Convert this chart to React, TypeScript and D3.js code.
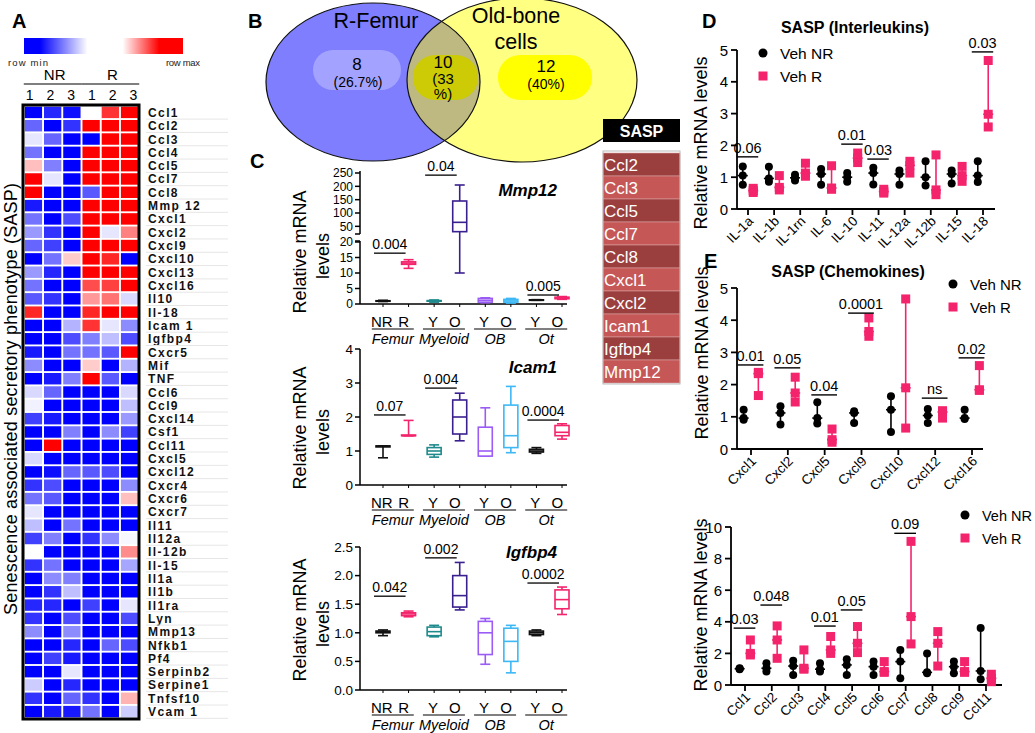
import React from 'react';
import * as d3 from 'd3';

const FONT = 'Arial, "Liberation Sans", Helvetica, sans-serif';
const PINK = '#f3246c';

// ---------- A: heatmap data ----------
const heatGenes = ['Ccl1', 'Ccl2', 'Ccl3', 'Ccl4', 'Ccl5', 'Ccl7', 'Ccl8', 'Mmp 12', 'Cxcl1', 'Cxcl2', 'Cxcl9', 'Cxcl10', 'Cxcl13', 'Cxcl16', 'Il10', 'Il-18', 'Icam 1', 'Igfbp4', 'Cxcr5', 'Mif', 'TNF', 'Ccl6', 'Ccl9', 'Cxcl14', 'Csf1', 'Ccl11', 'Cxcl5', 'Cxcl12', 'Cxcr4', 'Cxcr6', 'Cxcr7', 'Il11', 'Il12a', 'Il-12b', 'Il-15', 'Il1a', 'Il1b', 'Il1ra', 'Lyn', 'Mmp13', 'Nfkb1', 'Pf4', 'Serpinb2', 'Serpine1', 'Tnfsf10', 'Vcam 1'];
const heatGroups = ['NR', 'R'];
const heatCols = ['1', '2', '3', '1', '2', '3'];
// -1 = row min (blue), 0 = white, 1 = row max (red)
const heatValues = [
  [-1, -0.85, -0.95, 0, 0.8, 1],
  [-0.6, -1, -0.8, 1, 1, 1],
  [-0.1, -0.6, -1, -1, 1, 1],
  [-0.55, -1, -1, 1, 1, 1],
  [0.25, -0.5, -1, 1, 1, 1],
  [1, -0.1, -1, 1, 1, 1],
  [1, -1, -1, -0.65, 1, 1],
  [-0.9, -1, -1, 1, 1, 1],
  [-0.55, -1, -0.7, 1, 1, 1],
  [-0.4, -0.8, -1, 1, -0.1, 0.5],
  [-0.6, -0.75, -1, 1, 1, 1],
  [-1, -0.55, 0.2, 1, 0.85, -1],
  [-0.4, -0.85, -1, 1, 1, 1],
  [-0.55, -1, -1, 0.7, 0.75, 1],
  [-0.65, -0.8, -1, 0.4, 0.55, -0.15],
  [0.85, -1, -1, 0.85, 1, 1],
  [-1, -1, -0.3, 0.8, -0.1, -0.45],
  [-1, -1, -0.7, -0.5, -0.25, -0.7],
  [-0.9, -1, -0.55, -0.55, -0.65, 1],
  [-0.45, -1, -1, 0.2, -1, -0.3],
  [-1, -0.9, -0.5, 1, -0.65, -1],
  [-0.15, -0.6, -1, -1, -1, -0.15],
  [-0.05, -1, -1, -1, -1, -0.25],
  [-0.75, -0.9, -1, -1, -1, -0.4],
  [-1, -1, -0.5, -1, -0.45, -0.75],
  [-1, 1, -1, -1, -1, -1],
  [-0.15, -1, -1, -1, -1, -1],
  [-1, -0.95, -0.6, -0.65, -0.7, -1],
  [-0.8, -0.7, -1, -1, -1, -0.45],
  [-0.55, -0.65, -1, -1, -1, 0.25],
  [-0.1, -1, -1, -1, -1, -1],
  [-0.25, -1, -0.55, -1, -1, -1],
  [-0.75, -0.5, -1, -0.8, -0.45, -0.03],
  [0, -1, -1, -1, -1, 0.45],
  [-0.8, -0.55, -1, -1, -1, -0.35],
  [-1, -0.45, -0.5, -1, -1, -1],
  [-1, -0.8, -0.25, -1, -1, -1],
  [-0.85, -0.85, -1, -0.75, -1, -0.1],
  [-0.8, -1, -0.7, -1, -1, -0.7],
  [-0.45, -1, -0.45, -1, -1, -1],
  [-1, -1, -0.85, -1, -0.6, -0.7],
  [-1, -0.75, -0.9, -1, -1, -1],
  [-1, -1, -0.1, -1, -1, -1],
  [-0.2, -1, -0.85, -1, -1, -1],
  [-0.8, -1, -0.6, -0.8, -1, 0.3],
  [-1, -0.9, -0.9, -0.55, -1, -0.2],
];

// ---------- B: venn ----------
const vennSets = ['R-Femur', 'Old-bone cells'];
const vennCounts = [8, 10, 12];
const vennPct = ['26.7%', '33%', '40%'];

// ---------- C: box plots ----------
const boxGroups = ['Femur', 'Myeloid', 'OB', 'Ot'];
const boxCats = ['NR', 'R', 'Y', 'O', 'Y', 'O', 'Y', 'O'];
const boxColors = ['#111', PINK, '#1f8a8c', '#3a1f8f', '#9a5cf5', '#3db8f5', '#111', PINK];
// [min, q1, median, q3, max]
const mmp12Stats = [
  [0.8, 0.95, 1, 1.05, 1.2], [11.5, 12.8, 13.2, 13.6, 14.3], [0.6, 0.9, 1, 1.1, 1.3], [10, 30, 65, 145, 205],
  [0.4, 0.6, 1.2, 1.8, 2.0], [0.3, 0.6, 1.0, 1.5, 1.8], [1.2, 1.25, 1.3, 1.35, 1.4], [1.5, 1.7, 2, 2.2, 2.4],
];
const icam1Stats = [
  [0.8, 1.12, 1.14, 1.15, 1.15], [1.45, 1.45, 1.45, 1.47, 1.9], [0.82, 0.9, 1.0, 1.1, 1.18], [1.3, 1.5, 2.0, 2.5, 2.7],
  [0.85, 0.85, 1.0, 1.7, 2.27], [0.95, 1.1, 1.45, 2.35, 2.9], [0.93, 0.97, 1.0, 1.05, 1.1], [1.35, 1.45, 1.55, 1.75, 1.8],
];
const igfbp4Stats = [
  [0.95, 1.0, 1.02, 1.03, 1.05], [1.28, 1.3, 1.33, 1.35, 1.38], [0.93, 0.95, 1.02, 1.1, 1.13], [1.4, 1.45, 1.65, 2.0, 2.23],
  [0.45, 0.62, 1.0, 1.2, 1.25], [0.3, 0.5, 0.85, 1.08, 1.13], [0.95, 0.97, 1.0, 1.03, 1.05], [1.32, 1.42, 1.58, 1.75, 1.8],
];
const mmp12Sig: [number, number, number, string][] = [[0, 1, 16.4, '0.004'], [2, 3, 242, '0.04'], [6, 7, 2.9, '0.005']];
const icam1Sig: [number, number, number, string][] = [[0, 1, 2.06, '0.07'], [2, 3, 2.85, '0.004'], [6, 7, 1.91, '0.0004']];
const igfbp4Sig: [number, number, number, string][] = [[0, 1, 1.64, '0.042'], [2, 3, 2.31, '0.002'], [6, 7, 1.87, '0.0002']];

// ---------- SASP table ----------
const saspGenes = ['Ccl2', 'Ccl3', 'Ccl5', 'Ccl7', 'Ccl8', 'Cxcl1', 'Cxcl2', 'Icam1', 'Igfbp4', 'Mmp12'];

// ---------- D / E: dot plots ----------
const ilCats = ['IL-1a', 'IL-1b', 'IL-1rn', 'IL-6', 'IL-10', 'IL-11', 'IL-12a', 'IL-12b', 'IL-15', 'IL-18'];
const ilNR = [[1.34, 1.05, 0.76], [1.33, 0.96, 0.86], [1.08, 0.98, 0.9], [1.26, 1.1, 0.76], [1.13, 1.0, 0.86], [1.3, 1.13, 0.77], [1.21, 1.1, 0.76], [1.5, 1.0, 0.74], [1.21, 1.1, 0.8], [1.5, 1.05, 0.85]];
const ilR = [[0.65, 0.58, 0.52], [1.05, 0.68, 0.6], [1.44, 1.13, 1.03], [1.36, 0.66, 0.62], [1.76, 1.6, 1.46], [0.62, 0.55, 0.5], [1.5, 1.37, 1.13], [1.7, 0.6, 0.45], [1.34, 1.05, 0.87], [4.67, 2.98, 2.58]];
const ilSig: [string, number, string][] = [['IL-1a', 1.64, '0.06'], ['IL-10', 2.04, '0.01'], ['IL-11', 1.57, '0.03'], ['IL-18', 4.94, '0.03']];

const cxCats = ['Cxcl1', 'Cxcl2', 'Cxcl5', 'Cxcl9', 'Cxcl10', 'Cxcl12', 'Cxcl16'];
const cxNR = [[1.22, 0.96, 0.91], [1.33, 1.12, 0.76], [1.45, 0.96, 0.79], [1.17, 1.12, 0.81], [1.64, 1.22, 0.53], [1.24, 1.04, 0.81], [1.22, 0.96, 0.93]];
const cxR = [[2.38, 2.34, 1.66], [2.23, 1.74, 1.46], [0.62, 0.29, 0.21], [4.07, 3.65, 3.5], [4.66, 1.9, 0.65], [1.19, 1.15, 0.96], [2.59, 1.84, 1.82]];
const cxSig: [string, number, string][] = [['Cxcl1', 2.61, '0.01'], ['Cxcl2', 2.52, '0.05'], ['Cxcl5', 1.68, '0.04'], ['Cxcl9', 4.22, '0.0001'], ['Cxcl12', 1.58, 'ns'], ['Cxcl16', 2.83, '0.02']];

const cclCats = ['Ccl1', 'Ccl2', 'Ccl3', 'Ccl4', 'Ccl5', 'Ccl6', 'Ccl7', 'Ccl8', 'Ccl9', 'Ccl11'];
const cclNR = [[1.06, 1.03, 1.0], [1.37, 1.06, 0.85], [1.54, 1.2, 0.63], [1.37, 1.0, 0.85], [1.63, 1.27, 0.63], [1.48, 1.16, 0.63], [2.22, 1.48, 0.42], [2.0, 0.8, 0.74], [1.48, 1.16, 0.74], [3.6, 0.89, 0.36]];
const cclR = [[2.85, 2.0, 1.9], [3.74, 2.85, 1.69], [2.22, 1.06, 1.0], [3.07, 2.22, 2.0], [3.7, 2.64, 2.05], [1.48, 0.85, 0.8], [9.09, 4.33, 2.6], [3.38, 2.64, 1.2], [1.48, 0.85, 0.8], [0.68, 0.42, 0.21]];
const cclSig: [string, number, string][] = [['Ccl1', 3.6, '0.03'], ['Ccl2', 5.06, '0.048'], ['Ccl4', 3.73, '0.01'], ['Ccl5', 4.75, '0.05'], ['Ccl7', 9.6, '0.09']];

const legendLabels = ['Veh NR', 'Veh R'];

function VLabel({ x, y, size, children, weight }: any) {
  return (
    <text transform={`translate(${x},${y}) rotate(-90)`} textAnchor="middle" fontSize={size} fontWeight={weight}>
      {children}
    </text>
  );
}

function Heatmap() {
  const x = d3.scaleBand<number>().domain(d3.range(heatCols.length)).range([24, 139]).paddingInner(0.1).paddingOuter(0.04);
  const y = d3.scaleBand<string>().domain(heatGenes).range([106, 718]).paddingInner(0.14).paddingOuter(0.05);
  const color = d3.scaleLinear<string>().domain([-1, 0, 1]).range(['#0000ff', '#ffffff', '#ff0000']);
  const bw = x.bandwidth();
  return (
    <g>
      <text x={12} y={28} fontSize={20} fontWeight="bold">A</text>
      <defs>
        <linearGradient id="hmGrad" x1="0" x2="1" y1="0" y2="0">
          <stop offset="0" stopColor="#0000ff" />
          <stop offset="0.1" stopColor="#0000ff" />
          <stop offset="0.4" stopColor="#ffffff" />
          <stop offset="0.62" stopColor="#ffffff" />
          <stop offset="0.85" stopColor="#ff0000" />
          <stop offset="1" stopColor="#ff0000" />
        </linearGradient>
      </defs>
      <rect x={24} y={38} width={159} height={16} fill="url(#hmGrad)" />
      <text x={8} y={66} fontSize={9.5} textLength={40} fill="#222">row min</text>
      <text x={166} y={66} fontSize={9.5} textLength={34} fill="#222">row max</text>
      {heatGroups.map((g, gi) => {
        const x0 = x(gi * 3)! - 1;
        const x1 = x(gi * 3 + 2)! + bw + 1;
        return (
          <g key={g}>
            <text x={(x0 + x1) / 2 + 2} y={80} fontSize={15} textAnchor="middle">{g}</text>
            <line x1={x0} x2={x1} y1={84} y2={84} stroke="#000" strokeWidth={1.2} />
          </g>
        );
      })}
      {heatCols.map((c, i) => (
        <text key={i} x={x(i)! + bw / 2 + (i - 2.5) * 1.5} y={100} fontSize={14} textAnchor="middle">{c}</text>
      ))}
      {heatGenes.map((gene, r) => (
        <g key={gene}>
          {heatValues[r].map((v, c) => (
            <rect key={c} x={x(c)} y={y(gene)} width={bw} height={y.bandwidth()} fill={color(v)} />
          ))}
          <text x={148} y={y(gene)! + y.bandwidth() / 2 + 4.5} fontSize={12} fontWeight="bold" letterSpacing={1.4} fill="#111">{gene}</text>
          <line x1={146} x2={228} y1={y(gene)! + y.bandwidth() + 1} y2={y(gene)! + y.bandwidth() + 1} stroke="#e6e6e6" strokeWidth={1} />
        </g>
      ))}
      <rect x={23} y={105} width={116} height={614} fill="none" stroke="#000" strokeWidth={3} />
      <g transform="translate(17,399) rotate(-90)">
        <text textAnchor="middle" fontSize={18} textLength={432}>Senescence associated secretory phenotype (SASP)</text>
      </g>
    </g>
  );
}

function Venn() {
  const blue = { cx: 373, cy: 82, rx: 107, ry: 79 };
  const yel = { cx: 522, cy: 80, rx: 115, ry: 82 };
  return (
    <g>
      <defs>
        <clipPath id="blueClip">
          <ellipse cx={blue.cx} cy={blue.cy} rx={blue.rx} ry={blue.ry} />
        </clipPath>
      </defs>
      <ellipse cx={blue.cx} cy={blue.cy} rx={blue.rx} ry={blue.ry} fill="#7e7eff" />
      <ellipse cx={yel.cx} cy={yel.cy} rx={yel.rx} ry={yel.ry} fill="#ffff82" />
      <ellipse cx={yel.cx} cy={yel.cy} rx={yel.rx} ry={yel.ry} fill="#bdb981" clipPath="url(#blueClip)" />
      <ellipse cx={blue.cx} cy={blue.cy} rx={blue.rx} ry={blue.ry} fill="none" stroke="#111" strokeWidth={1.2} />
      <ellipse cx={yel.cx} cy={yel.cy} rx={yel.rx} ry={yel.ry} fill="none" stroke="#111" strokeWidth={1.2} />
      <text x={248} y={28} fontSize={20} fontWeight="bold">B</text>
      <text x={376} y={28} fontSize={21.5} textAnchor="middle">{vennSets[0]}</text>
      <text x={516} y={23} fontSize={21.5} textAnchor="middle">Old-bone</text>
      <text x={516} y={49} fontSize={21.5} textAnchor="middle">cells</text>
      <rect x={313} y={50} width={88} height={40} rx={20} fill="#a3a3ff" />
      <rect x={413} y={55} width={65} height={45} rx={22} fill="#cccb05" />
      <rect x={498} y={55} width={94} height={45} rx={22} fill="#ffff00" />
      <text x={357} y={70} fontSize={17} textAnchor="middle">{vennCounts[0]}</text>
      <text x={358} y={87} fontSize={14} textAnchor="middle">({vennPct[0]})</text>
      <text x={443} y={68} fontSize={17} textAnchor="middle">{vennCounts[1]}</text>
      <text x={443} y={84} fontSize={15} textAnchor="middle">(33</text>
      <text x={443} y={99} fontSize={15} textAnchor="middle">%)</text>
      <text x={546} y={72} fontSize={17} textAnchor="middle">{vennCounts[2]}</text>
      <text x={546} y={89} fontSize={14} textAnchor="middle">({vennPct[2]})</text>
    </g>
  );
}

type BoxCfg = {
  stats: number[][];
  y: (v: number) => number;
  axisTop: number;
  axisY: number;
  ticks: { v: number; label: string }[];
  tickSize: number;
  segments?: [number, number][];
  title: string;
  titleY: number;
  sig: [number, number, number, string][];
  labelY: number;
};

function BoxPlot({ cfg }: { cfg: BoxCfg }) {
  const axisX = 360;
  const xPos = d3.scalePoint<number>().domain(d3.range(boxCats.length)).range([383, 562]);
  const y = cfg.y;
  const segs = cfg.segments || [[cfg.axisTop, cfg.axisY]];
  return (
    <g>
      {segs.map((s, i) => (
        <line key={i} x1={axisX} x2={axisX} y1={s[0]} y2={s[1]} stroke="#000" strokeWidth={1.5} />
      ))}
      {cfg.segments && cfg.segments.map((s, i) => (
        <line key={'b' + i} x1={axisX - 5} x2={axisX} y1={i === 0 ? s[1] : s[0]} y2={i === 0 ? s[1] : s[0]} stroke="#000" strokeWidth={1.5} />
      ))}
      {cfg.ticks.map((t) => (
        <g key={t.label}>
          <line x1={axisX - 5} x2={axisX} y1={y(t.v)} y2={y(t.v)} stroke="#000" strokeWidth={1.5} />
          <text x={axisX - 7} y={y(t.v) + cfg.tickSize * 0.36} fontSize={cfg.tickSize} textAnchor="end">{t.label}</text>
        </g>
      ))}
      <line x1={axisX} x2={567} y1={cfg.axisY} y2={cfg.axisY} stroke="#000" strokeWidth={1.5} />
      {boxCats.map((c, i) => (
        <line key={i} x1={xPos(i)} x2={xPos(i)} y1={cfg.axisY} y2={cfg.axisY + 3} stroke="#000" strokeWidth={1} />
      ))}
      {boxGroups.map((g, gi) => {
        const cx = (xPos(gi * 2)! + xPos(gi * 2 + 1)!) / 2 - 3;
        return (
          <g key={g}>
            <text x={cx - 11} y={cfg.axisY + 23} fontSize={15} textAnchor="middle">{boxCats[gi * 2]}</text>
            <text x={cx + 11} y={cfg.axisY + 23} fontSize={15} textAnchor="middle">{boxCats[gi * 2 + 1]}</text>
            <line x1={cx - 21} x2={cx + 21} y1={cfg.axisY + 25} y2={cfg.axisY + 25} stroke="#000" strokeWidth={1.2} />
            <text x={cx} y={cfg.axisY + 40} fontSize={14.5} fontStyle="italic" textAnchor="middle">{g}</text>
          </g>
        );
      })}
      {cfg.stats.map((s, i) => {
        const cx = xPos(i)!;
        const col = boxColors[i];
        const [mn, q1, md, q3, mx] = s.map(y);
        return (
          <g key={i} stroke={col} strokeWidth={1.6} fill="none">
            <line x1={cx} x2={cx} y1={mn} y2={mx} />
            <line x1={cx - 5} x2={cx + 5} y1={mn} y2={mn} />
            <line x1={cx - 5} x2={cx + 5} y1={mx} y2={mx} />
            <rect x={cx - 7} y={q3} width={14} height={Math.max(q1 - q3, 0.5)} fill="#fff" />
            <line x1={cx - 7} x2={cx + 7} y1={md} y2={md} />
          </g>
        );
      })}
      {cfg.sig.map(([a, b, v, lab]) => {
        const x0 = xPos(a)! - 9;
        const x1 = xPos(b)! - 3;
        return (
          <g key={lab + a}>
            <line x1={x0} x2={x1} y1={y(v)} y2={y(v)} stroke="#000" strokeWidth={1.3} />
            <text x={(x0 + x1) / 2} y={y(v) - 4} fontSize={14} textAnchor="middle">{lab}</text>
          </g>
        );
      })}
      <text x={557} y={cfg.titleY} fontSize={17} fontWeight="bold" fontStyle="italic" textAnchor="end">{cfg.title}</text>
      <VLabel x={306} y={cfg.labelY} size={18}>Relative mRNA</VLabel>
      <VLabel x={329} y={cfg.labelY + 4} size={18}>levels</VLabel>
    </g>
  );
}

function BoxPanels() {
  const low = d3.scaleLinear().domain([0, 20]).range([304, 242]);
  const high = d3.scaleLinear().domain([25, 250]).range([233, 173]);
  const mmpY = (v: number) => (v <= 22 ? low(v) : high(v));
  const icY = d3.scaleLinear().domain([0, 4]).range([485, 349]);
  const igY = d3.scaleLinear().domain([0, 2.5]).range([690, 547]);
  const mmp: BoxCfg = {
    stats: mmp12Stats, y: mmpY, axisTop: 173, axisY: 304, tickSize: 12,
    ticks: [...low.ticks(4), ...[50, 100, 150, 200, 250]].map((v) => ({ v, label: String(v) })),
    segments: [[171, 234], [241, 304]],
    title: 'Mmp12', titleY: 196, sig: mmp12Sig, labelY: 252,
  };
  const ic: BoxCfg = {
    stats: icam1Stats, y: icY, axisTop: 349, axisY: 485, tickSize: 13.5,
    ticks: icY.ticks(4).map((v) => ({ v, label: String(v) })),
    title: 'Icam1', titleY: 373, sig: icam1Sig, labelY: 428,
  };
  const ig: BoxCfg = {
    stats: igfbp4Stats, y: igY, axisTop: 547, axisY: 690, tickSize: 13.5,
    ticks: d3.range(0, 2.51, 0.5).map((v) => ({ v, label: d3.format('.1f')(v) })),
    title: 'Igfbp4', titleY: 558, sig: igfbp4Sig, labelY: 620,
  };
  return (
    <g>
      <text x={250} y={168} fontSize={20} fontWeight="bold">C</text>
      <BoxPlot cfg={mmp} />
      <BoxPlot cfg={ic} />
      <BoxPlot cfg={ig} />
    </g>
  );
}

function SaspTable() {
  const y = d3.scaleBand<string>().domain(saspGenes).range([153, 383]);
  return (
    <g>
      <rect x={603} y={119} width={77} height={23} fill="#000" />
      <text x={641.5} y={137} fontSize={16} fontWeight="bold" fill="#fff" textAnchor="middle">SASP</text>
      {saspGenes.map((g, i) => (
        <g key={g}>
          <rect x={603} y={y(g)} width={77} height={y.bandwidth()} fill={i % 2 === 0 ? '#9a3e3e' : '#c65757'} stroke="#d9a0a0" strokeWidth={0.6} />
          <text x={604} y={y(g)! + y.bandwidth() / 2 + 6} fontSize={17} fill="#fff">{g}</text>
        </g>
      ))}
      <rect x={603} y={151} width={77} height={233} fill="none" stroke="#bbb" strokeWidth={1} />
    </g>
  );
}

type DotCfg = {
  cats: string[];
  nr: number[][];
  r: number[][];
  sig: [string, number, string][];
  axisX: number;
  xRange: [number, number];
  xEnd: number;
  yRange: [number, number];
  yMax: number;
  yTicks: number[];
  legend: [number, number];
  legendSize: number;
  labelPos: [number, number];
  title?: string;
  titlePos?: [number, number];
  letter?: string;
  letterPos?: [number, number];
};

function DotPlot({ cfg }: { cfg: DotCfg }) {
  const x = d3.scalePoint<string>().domain(cfg.cats).range(cfg.xRange);
  const y = d3.scaleLinear().domain([0, cfg.yMax]).range(cfg.yRange);
  const off = x.step() * 0.2;
  const y0 = y(0);
  const range = (vals: number[], cx: number, col: string) => {
    const mn = d3.min(vals)!;
    const mx = d3.max(vals)!;
    const md = d3.median(vals)!;
    return (
      <g stroke={col} strokeWidth={1.6}>
        <line x1={cx} x2={cx} y1={y(mn)} y2={y(mx)} />
        <line x1={cx - 3.5} x2={cx + 3.5} y1={y(mn)} y2={y(mn)} />
        <line x1={cx - 3.5} x2={cx + 3.5} y1={y(mx)} y2={y(mx)} />
        <line x1={cx - 5} x2={cx + 5} y1={y(md)} y2={y(md)} />
      </g>
    );
  };
  return (
    <g>
      {cfg.letter && (
        <text x={cfg.letterPos![0]} y={cfg.letterPos![1]} fontSize={20} fontWeight="bold">{cfg.letter}</text>
      )}
      {cfg.title && (
        <text x={cfg.titlePos![0]} y={cfg.titlePos![1]} fontSize={16} fontWeight="bold" textAnchor="middle">{cfg.title}</text>
      )}
      <line x1={cfg.axisX} x2={cfg.axisX} y1={y0} y2={y(cfg.yMax)} stroke="#000" strokeWidth={1.8} />
      <line x1={cfg.axisX} x2={cfg.xEnd} y1={y0} y2={y0} stroke="#000" strokeWidth={1.8} />
      {cfg.yTicks.map((t) => (
        <g key={t}>
          <line x1={cfg.axisX - 6} x2={cfg.axisX} y1={y(t)} y2={y(t)} stroke="#000" strokeWidth={1.8} />
          <text x={cfg.axisX - 9} y={y(t) + 5.5} fontSize={15} textAnchor="end">{t}</text>
        </g>
      ))}
      {cfg.cats.map((c) => (
        <g key={c}>
          <line x1={x(c)} x2={x(c)} y1={y0} y2={y0 + 6} stroke="#000" strokeWidth={1.8} />
          <text transform={`translate(${x(c)! + 6},${y0 + 13}) rotate(-45)`} fontSize={13.5} textAnchor="end">{c}</text>
        </g>
      ))}
      {cfg.cats.map((c, i) => {
        const xn = x(c)! - off;
        const xr = x(c)! + off;
        return (
          <g key={'d' + c}>
            {range(cfg.nr[i], xn, '#000')}
            {range(cfg.r[i], xr, PINK)}
            {cfg.nr[i].map((v, k) => <circle key={k} cx={xn} cy={y(v)} r={4} fill="#000" />)}
            {cfg.r[i].map((v, k) => <rect key={k} x={xr - 4.5} y={y(v) - 4.5} width={9} height={9} fill={PINK} />)}
          </g>
        );
      })}
      {cfg.sig.map(([c, v, lab]) => {
        const x0 = x(c)! - off - 6;
        const x1 = x(c)! + off + 5;
        return (
          <g key={c}>
            <line x1={x0} x2={x1} y1={y(v)} y2={y(v)} stroke="#000" strokeWidth={1.4} />
            <text x={(x0 + x1) / 2} y={y(v) - 4} fontSize={14.5} textAnchor="middle">{lab}</text>
          </g>
        );
      })}
      <circle cx={cfg.legend[0]} cy={cfg.legend[1]} r={4.5} fill="#000" />
      <rect x={cfg.legend[0] - 4.5} y={cfg.legend[1] + 23 - 4.5} width={9} height={9} fill={PINK} />
      {legendLabels.map((l, i) => (
        <text key={l} x={cfg.legend[0] + 17} y={cfg.legend[1] + 23 * i + 6} fontSize={cfg.legendSize}>{l}</text>
      ))}
      <VLabel x={cfg.labelPos[0]} y={cfg.labelPos[1]} size={18}>Relative mRNA levels</VLabel>
    </g>
  );
}

function DotPanels() {
  const d: DotCfg = {
    cats: ilCats, nr: ilNR, r: ilR, sig: ilSig, axisX: 737, xRange: [748, 983], xEnd: 995,
    yRange: [209, 50], yMax: 5, yTicks: [0, 1, 2, 3, 4, 5], legend: [763, 53], legendSize: 15.5, labelPos: [707, 143],
    title: 'SASP (Interleukins)', titlePos: [855, 33], letter: 'D', letterPos: [702, 28],
  };
  const e: DotCfg = {
    cats: cxCats, nr: cxNR, r: cxR, sig: cxSig, axisX: 737, xRange: [751, 972], xEnd: 983,
    yRange: [449, 288], yMax: 5, yTicks: [0, 1, 2, 3, 4, 5], legend: [953, 284], legendSize: 15, labelPos: [708, 353],
    title: 'SASP (Chemokines)', titlePos: [848, 277], letter: 'E', letterPos: [704, 268],
  };
  const f: DotCfg = {
    cats: cclCats, nr: cclNR, r: cclR, sig: cclSig, axisX: 731, xRange: [745, 986], xEnd: 1002,
    yRange: [685, 527], yMax: 10, yTicks: [0, 2, 4, 6, 8, 10], legend: [965, 515], legendSize: 14.5, labelPos: [707, 605],
  };
  return (
    <g>
      <DotPlot cfg={d} />
      <DotPlot cfg={e} />
      <DotPlot cfg={f} />
    </g>
  );
}

export default function App() {
  return (
    <svg width={1035} height={733} style={{ position: 'absolute', left: 0, top: 0 }} fontFamily={FONT}>
      <rect width={1035} height={733} fill="#fff" />
      <Venn />
      <Heatmap />
      <BoxPanels />
      <SaspTable />
      <DotPanels />
    </svg>
  );
}
